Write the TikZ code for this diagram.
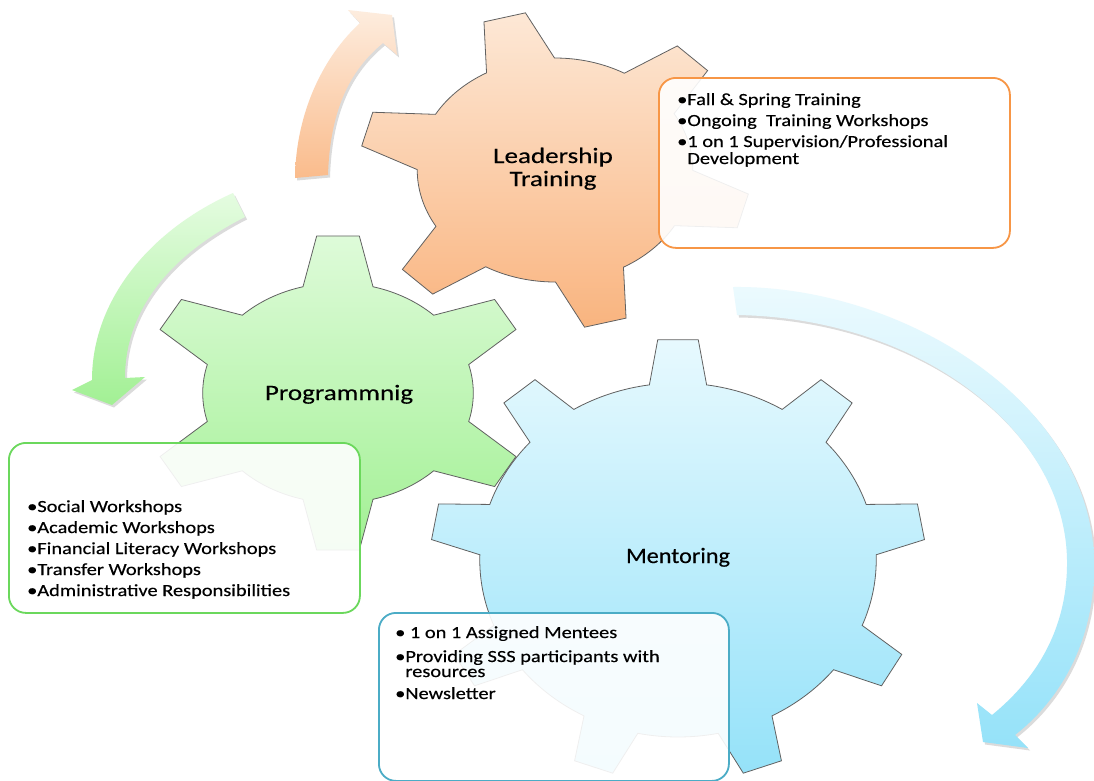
\documentclass[tikz,border=0pt]{standalone}
\usepackage{fontspec}
\setmainfont{Carlito}
\newfontfamily\boxfont[FakeStretch=1.2, FakeBold=0.4]{Carlito}
\newfontfamily\labelfont[FakeStretch=1.23, FakeBold=0.3]{Carlito}
\newfontfamily\mlabelfont[FakeStretch=1.1, FakeBold=0.3]{Carlito}
\definecolor{orTop}{HTML}{FDE8D6}
\definecolor{orBot}{HTML}{F9B47F}
\definecolor{grTop}{HTML}{DEFBD9}
\definecolor{grBot}{HTML}{A2F094}
\definecolor{blTop}{HTML}{E7F9FE}
\definecolor{blBot}{HTML}{95E2F9}
\definecolor{orLine}{HTML}{F79646}
\definecolor{grLine}{HTML}{6BD85C}
\definecolor{blLine}{HTML}{4BACC6}
\newcommand{\gearshape}[6]{% n, start, rbody, rtip, basehalf, tiphalf
  ({#2+#5}:#3)
  \foreach \k in {1,...,#1}{
    arc[start angle={#2+(\k-1)*360/#1+#5}, end angle={#2+\k*360/#1-#5}, radius=#3]
    -- ({#2+\k*360/#1-#6}:#4) -- ({#2+\k*360/#1+#6}:#4) -- ({#2+\k*360/#1+#5}:#3)
  } -- cycle}
\newcommand{\orarrowpath}{(295,178) .. controls (296,110) and (325,55) .. (360,23)
  -- (348,10) -- (392,15) -- (397,55) -- (383,43)
  .. controls (350,70) and (330,110) .. (328,175) -- cycle}
\newcommand{\grarrowpath}{(233,193) .. controls (150,230) and (92,300) .. (92,380)
  -- (72,390) -- (112,405) -- (145,377) -- (125,378)
  .. controls (125,310) and (170,255) .. (245,217) -- cycle}
\newcommand{\blarrowpath}{(733,287) .. controls (900,285) and (1090,400) .. (1094,560)
  .. controls (1096,640) and (1060,700) .. (1015,735)
  -- (1028,748) -- (983,742) -- (977,703) -- (992,715)
  .. controls (1035,680) and (1068,630) .. (1067,560)
  .. controls (1065,430) and (920,318) .. (737,315) -- cycle}
\tikzset{
  gearline/.style={draw=black!62, line width=0.8pt},
  infobox/.style={rounded corners=17pt, line width=1.8pt, fill=white, fill opacity=0.9,
    draw opacity=1, inner sep=0pt, anchor=north west},
  boxtext/.style={anchor=base west, align=left, inner sep=0pt,
    font=\boxfont\fontsize{17}{17}\selectfont},
  gearlabel/.style={anchor=base, align=center, inner sep=0pt,
    font=\labelfont\fontsize{22}{23}\selectfont},
  arrowshadow/.style={fill=black, fill opacity=0.14},
}
\begin{document}
\begin{tikzpicture}[x=1pt,y=-1pt]
\useasboundingbox (0,0) rectangle (1094,780);
\fill[white] (0,0) rectangle (1094,780);
% curved arrows
\fill[arrowshadow, shift={(2,2.5)}] \orarrowpath;
\shade[top color=orTop!80!white, bottom color=orBot!90!white] \orarrowpath;
\fill[arrowshadow, shift={(2,2.5)}] \grarrowpath;
\shade[top color=grTop!80!white, bottom color=grBot] \grarrowpath;
\fill[arrowshadow, shift={(2,2.5)}] \blarrowpath;
\shade[top color=blTop!80!white, bottom color=blBot] \blarrowpath;
% gears
\begin{scope}[shift={(678,560)}, x=1.12pt, y=1pt]
  \shadedraw[gearline, top color=blTop, bottom color=blBot] \gearshape{9}{90}{177}{221}{8.3}{4.7};
\end{scope}
\begin{scope}[shift={(555,170)}, x=1.23pt, y=1pt]
  \shadedraw[gearline, top color=orTop, bottom color=orBot] \gearshape{6}{105}{112}{159}{14.8}{6.3};
\end{scope}
\begin{scope}[shift={(338,393)}, x=1.23pt, y=1pt]
  \shadedraw[gearline, top color=grTop, bottom color=grBot] \gearshape{6}{90}{110}{158}{15}{6.3};
\end{scope}
% gear labels
\node[gearlabel] (lt) at (553,186) {Leadership\\Training};
\node[gearlabel] (pg) at (339,400) {Programmnig};
\node[gearlabel, font=\mlabelfont\fontsize{22}{23}\selectfont] (mt) at (678,563) {Mentoring};
% boxes
\node[infobox, draw=orLine, minimum width=351pt, minimum height=170pt] (ltbox) at (658,77) {};
\node[infobox, draw=grLine, minimum width=351pt, minimum height=170pt] (pgbox) at (8,442) {};
\node[infobox, draw=blLine, minimum width=350pt, minimum height=168pt] (mtbox) at (378,612) {};
\node[boxtext] (lttext) at (677,164) {•Fall \& Spring Training\\[4pt]
  •Ongoing\ \ Training Workshops\\[4pt]
  •1 on 1 Supervision/Professional\\
  \phantom{•}Development};
\node[boxtext] (pgtext) at (27,596) {•Social Workshops\\[4pt]
  •Academic Workshops\\[4pt]
  •Financial Literacy Workshops\\[4pt]
  •Transfer Workshops\\[4pt]
  •Administrative Responsibilities};
\node[boxtext] (mttext) at (395,699) {•\ 1 on 1 Assigned Mentees\\[7pt]
  •Providing SSS participants with\\[-2pt]
  \phantom{•}resources\\[5pt]
  •Newsletter};
\end{tikzpicture}
\end{document}
